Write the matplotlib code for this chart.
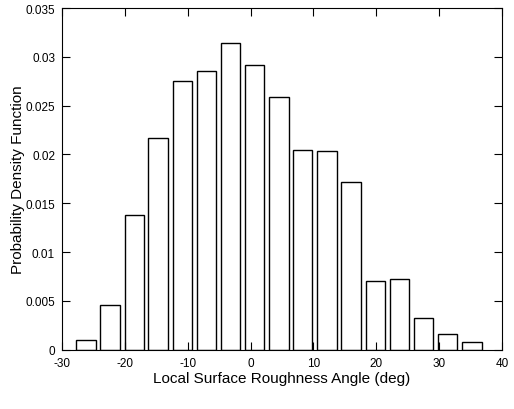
import matplotlib.pyplot as plt
import numpy as np

# histogram of local surface roughness angle
bin_centers = [-26.2, -22.4, -18.5, -14.7, -10.8, -7.0, -3.2, 0.6, 4.5,
               8.3, 12.2, 16.0, 19.9, 23.7, 27.5, 31.3, 35.2]
pdf = [0.00096, 0.0046, 0.0138, 0.0217, 0.02755, 0.02855, 0.0314, 0.0292,
       0.02585, 0.0205, 0.02035, 0.0172, 0.0070, 0.00724, 0.00321, 0.00157,
       0.00082]
xticks = [-30, -20, -10, 0, 10, 20, 30, 40]
yticks = [0, 0.005, 0.01, 0.015, 0.02, 0.025, 0.03, 0.035]
ytick_labels = ['0', '0.005', '0.01', '0.015', '0.02', '0.025', '0.03', '0.035']

plt.rcParams['font.family'] = ['Liberation Sans Narrow', 'Liberation Sans', 'DejaVu Sans']

fig = plt.figure(figsize=(5.14, 4.10), dpi=100)
ax = fig.add_axes([0.1206, 0.1446, 0.856, 0.8334])

ax.bar(bin_centers, pdf, width=3.1, color='white', edgecolor='black', linewidth=1)

ax.set_xlim(-30, 40)
ax.set_ylim(0, 0.035)
ax.set_xticks(xticks)
ax.set_xticklabels([str(t) for t in xticks])
ax.set_yticks(yticks)
ax.set_yticklabels(ytick_labels)
ax.tick_params(direction='in', top=True, right=True, length=6, labelsize=8.5, pad=5)

ax.set_xlabel('Local Surface Roughness Angle (deg)', fontsize=11,
              family=['Liberation Sans', 'DejaVu Sans'])
ax.set_ylabel('Probability Density Function', fontsize=11,
              family=['Liberation Sans', 'DejaVu Sans'])
ax.xaxis.set_label_coords(0.5, -0.062)
ax.yaxis.set_label_coords(-0.084, 0.5)

fig.savefig('out.png', dpi=100)
